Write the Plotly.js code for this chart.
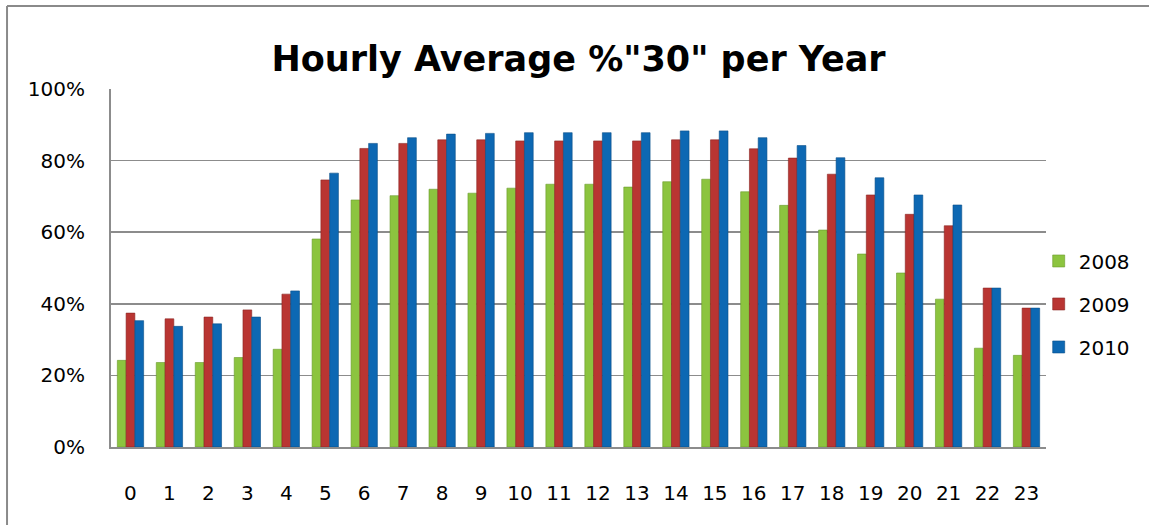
<!DOCTYPE html>
<html>
<head>
<meta charset="utf-8">
<script src="https://cdn.plot.ly/plotly-3.0.1.min.js"></script>
<style>
  html, body { margin: 0; padding: 0; background: #fff; }
  #chart { width: 1149px; height: 525px; }
</style>
</head>
<body>
<div id="chart"></div>
<script>
const hours = ["0","1","2","3","4","5","6","7","8","9","10","11","12","13","14","15","16","17","18","19","20","21","22","23"];
const y2008 = [0.242,0.236,0.236,0.250,0.273,0.581,0.690,0.702,0.720,0.709,0.723,0.734,0.734,0.726,0.741,0.748,0.713,0.675,0.606,0.539,0.486,0.413,0.276,0.256];
const y2009 = [0.374,0.358,0.363,0.383,0.427,0.746,0.834,0.848,0.858,0.858,0.855,0.855,0.855,0.855,0.858,0.858,0.833,0.807,0.762,0.704,0.650,0.618,0.444,0.388];
const y2010 = [0.353,0.337,0.344,0.363,0.436,0.765,0.848,0.864,0.874,0.876,0.878,0.878,0.878,0.878,0.883,0.883,0.864,0.842,0.808,0.752,0.704,0.676,0.444,0.388];
const seriesNames = ["2008","2009","2010"];
const seriesColors = ["#8cc43f","#b93532","#0d68b3"];
const lineColors = ["#6a9a2c","#8a2522","#0a4f88"];

const font = "DejaVu Sans, Verdana, sans-serif";
const data = [y2008, y2009, y2010].map((vals, i) => ({
  type: "bar",
  x: hours,
  y: vals,
  name: seriesNames[i],
  legendgroup: seriesNames[i],
  marker: { color: seriesColors[i], line: { color: lineColors[i], width: 0.6 } },
  hoverinfo: "x+y+name"
}));

const layout = {
  width: 1149,
  height: 525,
  margin: { l: 111, r: 103, t: 89, b: 78, pad: 0, autoexpand: false },
  paper_bgcolor: "#ffffff",
  plot_bgcolor: "#ffffff",
  font: { family: font, size: 20, color: "#000" },
  title: {
    text: "<b>Hourly Average %\"30\" per Year</b>",
    font: { family: "DejaVu Sans, Verdana, sans-serif", size: 35, color: "#000" },
    xref: "paper", x: 0.5, xanchor: "center",
    yref: "container", y: 0.889, yanchor: "middle"
  },
  barmode: "group",
  bargap: 0.325,
  bargroupgap: 0,
  xaxis: {
    type: "category",
    automargin: false,
    showgrid: false,
    showline: true, linecolor: "#8c8c8c", linewidth: 2,
    ticks: "", ticklabelstandoff: 27,
    tickfont: { family: font, size: 20, color: "#000" },
    zeroline: false, fixedrange: true
  },
  yaxis: {
    range: [0, 1],
    automargin: false,
    dtick: 0.2,
    tickformat: ".0%",
    showgrid: true, gridcolor: "#8c8c8c", gridwidth: 1.6,
    showline: true, linecolor: "#8c8c8c", linewidth: 2,
    ticks: "", ticklabelstandoff: 20,
    tickfont: { family: font, size: 20, color: "#000" },
    zeroline: false, fixedrange: true
  },
  showlegend: true,
  legend: {
    xref: "container", x: 0.904, xanchor: "left",
    yref: "container", y: 0.421, yanchor: "middle",
    traceorder: "grouped",
    tracegroupgap: 14,
    font: { family: font, size: 20, color: "#000" },
    itemwidth: 30,
    bgcolor: "rgba(0,0,0,0)"
  },
  shapes: [
    { type: "line", xref: "paper", yref: "paper", x0: -0.1112, x1: -0.1112, y0: -0.4, y1: 1.2318,
      line: { color: "#8a8a8a", width: 2 } },
    { type: "line", xref: "paper", yref: "paper", x0: -0.1112, x1: 1.3, y0: 1.2318, y1: 1.2318,
      line: { color: "#8a8a8a", width: 2 } }
  ]
};

Plotly.newPlot("chart", data, layout, { staticPlot: true, displayModeBar: false });
</script>
</body>
</html>
